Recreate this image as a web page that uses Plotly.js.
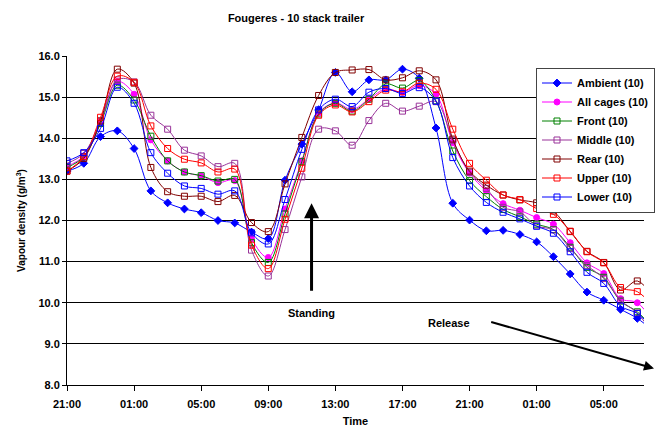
<!DOCTYPE html>
<html>
<head>
<meta charset="utf-8">
<script src="https://cdn.plot.ly/plotly-3.0.1.min.js"></script>
<style>html,body{margin:0;padding:0;background:#fff;}#chart{width:655px;height:427px;}</style>
</head>
<body>
<div id="chart"></div>
<script>
// Hours elapsed since 21:00 (hourly readings)
const hours = [0,1,2,3,4,5,6,7,8,9,10,11,12,13,14,15,16,17,18,19,20,21,22,23,24,25,26,27,28,29,30,31,32,33,34,35];
const tickHours = [0,4,8,12,16,20,24,28,32];
const tickLabels = ["21:00","01:00","05:00","09:00","13:00","17:00","21:00","01:00","05:00"];

const ambient  = [13.20,13.39,14.04,14.18,13.75,12.72,12.43,12.28,12.19,12.00,11.94,11.72,11.56,12.98,13.86,14.69,15.60,15.13,15.42,15.42,15.68,15.46,14.25,12.42,12.01,11.75,11.76,11.66,11.48,11.12,10.70,10.26,10.06,9.84,9.62,9.30];
const allCages = [13.32,13.57,14.40,15.38,15.07,13.96,13.45,13.18,13.08,12.92,12.97,11.56,11.10,12.28,13.45,14.61,14.86,14.70,14.95,15.20,15.12,15.28,15.07,13.89,13.15,12.72,12.41,12.25,12.07,11.91,11.46,10.97,10.71,10.10,10.00,9.50];
const front    = [13.29,13.55,14.36,15.29,14.93,14.05,13.45,13.18,13.09,12.96,13.00,11.46,10.98,12.16,13.43,14.59,14.85,14.66,14.95,15.32,15.22,15.40,14.91,13.69,12.97,12.58,12.27,12.09,11.91,11.78,11.35,10.86,10.62,10.04,9.78,9.35];
const middle   = [13.39,13.63,14.42,15.42,15.37,14.56,14.22,13.71,13.57,13.31,13.39,11.28,10.65,11.78,13.06,14.22,14.18,13.83,14.43,14.85,14.66,14.78,14.89,13.95,13.17,12.78,12.32,12.21,11.87,11.77,11.32,10.91,10.59,10.06,9.75,9.20];
const rear     = [13.20,13.51,14.42,15.68,15.34,13.29,12.70,12.59,12.59,12.46,12.61,11.95,11.73,12.89,14.02,15.04,15.60,15.66,15.67,15.42,15.47,15.64,15.42,13.98,13.20,12.86,12.62,12.50,12.43,12.23,11.73,11.25,10.98,10.31,10.53,10.10];
const upper    = [13.20,13.55,14.51,15.51,15.36,14.30,13.75,13.49,13.40,13.18,13.25,11.40,10.83,12.03,13.27,14.56,14.81,14.64,14.89,15.17,15.13,15.34,15.19,14.22,13.39,12.98,12.62,12.51,12.29,12.15,11.74,11.24,10.97,10.37,10.27,9.90];
const lower    = [13.45,13.65,14.24,15.24,14.85,13.65,13.15,12.84,12.78,12.64,12.72,11.70,11.43,12.51,13.73,14.69,14.95,14.77,15.12,15.21,15.09,15.23,14.90,13.53,12.84,12.44,12.20,12.04,11.86,11.69,11.24,10.74,10.47,9.92,9.74,9.35];

const seriesNames = ["Ambient (10)","All cages (10)","Front (10)","Middle (10)","Rear (10)","Upper (10)","Lower (10)"];

function tr(name, y, color, symbol, size) {
  return {
    x: hours, y: y, name: name, type: 'scatter', mode: 'lines+markers',
    line: {color: color, width: 1, shape: 'spline', smoothing: 1},
    marker: {color: color, symbol: symbol, size: size, line: {color: color, width: 1}},
    cliponaxis: true
  };
}

const data = [
  tr(seriesNames[0], ambient,  '#0000FF', 'diamond', 6),
  tr(seriesNames[1], allCages, '#FF00FF', 'circle', 6),
  tr(seriesNames[2], front,    '#008000', 'square-open', 6),
  tr(seriesNames[3], middle,   '#993399', 'square-open', 6),
  tr(seriesNames[4], rear,     '#800000', 'square-open', 6),
  tr(seriesNames[5], upper,    '#FF0000', 'square-open', 6),
  tr(seriesNames[6], lower,    '#0000FF', 'square-open', 6)
];

const F = 'Liberation Sans, Arial, sans-serif';
const layout = {
  width: 655, height: 427,
  margin: {l: 67, r: 0, t: 56, b: 42},
  paper_bgcolor: '#fff', plot_bgcolor: '#fff',
  font: {family: F, size: 11, color: '#000', weight: 'bold'},
  title: {text: '<b>Fougeres - 10 stack trailer</b>', x: 0.452, xanchor: 'center', xref: 'container',
          y: 1 - 18/427, yanchor: 'middle', yref: 'container', font: {family: F, size: 11, color: '#000'}},
  xaxis: {
    range: [0, 34.4], tickmode: 'array', tickvals: tickHours, ticktext: tickLabels,
    showgrid: false, zeroline: false, showline: true, linecolor: '#000', linewidth: 1,
    ticks: 'outside', ticklen: 5, tickcolor: '#000', ticklabelstandoff: 4,
    tickfont: {family: F, size: 11, color: '#000', weight: 'bold'},
    title: {text: '<b>Time</b>', font: {family: F, size: 11, color: '#000'}, standoff: 11}
  },
  yaxis: {
    range: [8, 16], dtick: 1, tick0: 8, tickformat: '.1f',
    showgrid: true, gridcolor: '#000', gridwidth: 1, zeroline: false,
    showline: true, linecolor: '#000', linewidth: 1,
    ticks: 'outside', ticklen: 4, tickcolor: '#000',
    tickfont: {family: F, size: 11, color: '#000', weight: 'bold'},
    title: {text: '<b>Vapour density (g/m<sup>3</sup>)</b>', font: {family: F, size: 10, color: '#000'}, standoff: 10}
  },
  showlegend: true,
  legend: {
    x: 0.813, y: 0.965, xanchor: 'left', yanchor: 'top',
    bgcolor: '#fff', bordercolor: '#444', borderwidth: 1,
    font: {family: F, size: 11, color: '#000', weight: 'bold'},
    tracegroupgap: 0, itemwidth: 30
  },
  annotations: [
    {x: 14.58, y: 12.42, xref: 'x', yref: 'y', ax: 0, ay: 89, axref: 'pixel', ayref: 'pixel',
     text: '', showarrow: true, arrowhead: 2, arrowsize: 1, arrowwidth: 3, arrowcolor: '#000'},
    {x: 14.55, y: 9.75, xref: 'x', yref: 'y', text: '<b>Standing</b>', showarrow: false,
     font: {family: F, size: 11, color: '#000'}},
    {x: 1.022, y: 0.05, xref: 'paper', yref: 'paper', ax: -167, ay: -47, axref: 'pixel', ayref: 'pixel',
     text: '', showarrow: true, arrowhead: 2, arrowsize: 1, arrowwidth: 2, arrowcolor: '#000'},
    {x: 22.8, y: 9.5, xref: 'x', yref: 'y', text: '<b>Release</b>', showarrow: false,
     font: {family: F, size: 11, color: '#000'}}
  ]
};

Plotly.newPlot('chart', data, layout, {displayModeBar: false, staticPlot: true});
</script>
</body>
</html>
